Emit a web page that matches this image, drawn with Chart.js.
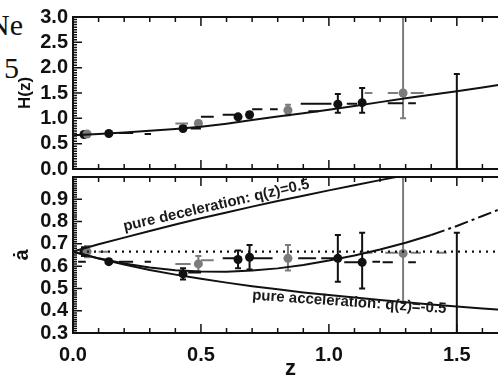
<!DOCTYPE html>
<html lang="en">
<head>
  <meta charset="UTF-8">
  <title>H(z) and a-dot versus z</title>
  <script src="https://cdn.jsdelivr.net/npm/chart.js"></script>
  <style>
    body {
      margin: 0;
      background: #fff;
      overflow: hidden;
      width: 498px;
      height: 383px;
      position: relative;
    }
    #topBox { position: absolute; left: 0; top: 0; }
    #botBox { position: absolute; left: 0; top: 160px; }
    .side {
      position: absolute;
      font-family: 'Liberation Serif', 'DejaVu Serif', serif;
      font-size: 30px;
      color: #111;
      line-height: 1;
    }
  </style>
</head>
<body>
  <!-- bits of the neighbouring page text, cut off at the left edge -->
  <div class="side" style="right:475px; top:10px;">Ne</div>
  <div class="side" style="right:479px; top:53px;">5</div>

  <div id="topBox"><canvas id="hChart" width="514" height="186"></canvas></div>
  <div id="botBox"><canvas id="aChart" width="514" height="223"></canvas></div>

  <script>
    // ---- model curves ----
    const curveZ   = [0, 0.1, 0.2, 0.3, 0.4, 0.5, 0.6, 0.7, 0.8, 0.9, 1.0, 1.1, 1.2, 1.3, 1.4, 1.5, 1.6, 1.7];
    const hCurve   = [0.665, 0.69, 0.72, 0.755, 0.79, 0.835, 0.895, 0.965, 1.035, 1.10, 1.17, 1.245, 1.32, 1.395, 1.465, 1.535, 1.61, 1.69];
    const aMiddle  = [0.665, 0.635, 0.612, 0.594, 0.582, 0.576, 0.575, 0.58, 0.59, 0.605, 0.625, 0.648, 0.675, 0.705, 0.74, 0.78, 0.825, 0.87];
    const aDecel   = [0.665, 0.698, 0.728, 0.758, 0.787, 0.815, 0.841, 0.867, 0.892, 0.916, 0.94, 0.963, 0.986, 1.008];
    const aAccel   = [0.665, 0.634, 0.607, 0.583, 0.562, 0.543, 0.526, 0.51, 0.496, 0.482, 0.47, 0.459, 0.448, 0.438, 0.428, 0.419, 0.41, 0.402];
    const aFlatZ   = [0, 1.7];
    const aFlat    = [0.665, 0.665];

    // ---- data points ----
    const blackZ   = [0.043, 0.14, 0.43, 0.645, 0.69, 1.035, 1.13, 1.50];
    const blackH   = [0.68, 0.70, 0.80, 1.03, 1.07, 1.28, 1.31, null];
    const blackHlo = [0.66, 0.68, 0.76, 0.99, 1.02, 1.11, 1.11, -1.0];
    const blackHhi = [0.70, 0.72, 0.84, 1.07, 1.12, 1.48, 1.60, 1.875];
    const blackA   = [0.665, 0.62, 0.565, 0.63, 0.64, 0.635, 0.617, null];
    const blackAlo = [0.645, 0.61, 0.54, 0.59, 0.585, 0.53, 0.50, 0.1];
    const blackAhi = [0.685, 0.63, 0.59, 0.67, 0.695, 0.74, 0.75, 0.75];

    const grayZ    = [0.055, 0.49, 0.84, 1.29];
    const grayH    = [0.69, 0.90, 1.16, 1.50];
    const grayHlo  = [0.67, 0.85, 1.06, 1.00];
    const grayHhi  = [0.71, 0.95, 1.27, 3.50];
    const grayA    = [0.665, 0.61, 0.635, 0.657];
    const grayAlo  = [0.64, 0.575, 0.58, 0.44];
    const grayAhi  = [0.69, 0.645, 0.695, 1.20];

    // ---- short dash pieces of the binned reconstructions: [z from, z to, value] ----
    const hDashBlack = [[0.18, 0.235, 0.71], [0.28, 0.305, 0.69], [0.46, 0.50, 0.80], [0.50, 0.55, 1.03],
                        [0.585, 0.635, 1.07], [0.70, 0.74, 1.18], [0.77, 0.80, 1.18], [0.92, 0.96, 1.14],
                        [0.89, 1.01, 1.29], [1.07, 1.11, 1.29], [1.23, 1.29, 1.30], [1.31, 1.34, 1.30]];
    const hDashGray  = [[0.40, 0.45, 0.90], [1.14, 1.17, 1.50], [1.23, 1.27, 1.50], [1.32, 1.37, 1.50]];
    const aDashBlack = [[0.02, 0.05, 0.62], [0.18, 0.235, 0.62], [0.28, 0.305, 0.62], [0.45, 0.50, 0.572],
                        [0.585, 0.64, 0.635], [0.70, 0.78, 0.635], [0.88, 0.95, 0.635], [0.97, 1.02, 0.635],
                        [1.06, 1.12, 0.617], [1.17, 1.20, 0.62], [1.21, 1.25, 0.617], [1.31, 1.34, 0.617]];
    const aDashGray  = [[0.10, 0.14, 0.665], [0.40, 0.46, 0.61], [0.50, 0.55, 0.626], [1.12, 1.17, 0.66],
                        [1.22, 1.27, 0.66], [1.32, 1.36, 0.66], [1.42, 1.46, 0.66]];

    // ---- annotations ----
    const noteText  = ['pure deceleration: q(z)=0.5', 'pure acceleration: q(z)=-0.5'];
    const noteZ     = [0.56, 1.08];
    const noteA     = [0.872, 0.438];
    const noteAngle = [-13, 4];

    const INK = '#111';
    const GRAY = '#7c7c7c';
    const FONT = "'Liberation Sans', Arial, sans-serif";

    function pts(xs, ys) {
      return xs.map((x, i) => ({x: x, y: ys[i] === undefined ? null : ys[i]}));
    }
    function pieces(list) {
      const out = [];
      list.forEach(s => {
        out.push({x: s[0], y: s[2]}, {x: s[1], y: s[2]}, {x: s[1], y: null});
      });
      return out;
    }
    function lineSet(data, color, extra) {
      return Object.assign({
        data: data, showLine: true, borderColor: color, borderWidth: 2,
        pointRadius: 0, fill: false, spanGaps: false
      }, extra || {});
    }
    function pointSet(data, color, lo, hi) {
      return {
        data: data, showLine: false, backgroundColor: color, borderColor: color,
        pointRadius: 4.5, pointBorderWidth: 0, errLo: lo, errHi: hi
      };
    }

    // frame + inward IDL-style ticks
    const frameTicks = {
      id: 'frameTicks',
      afterDraw(chart, args, opts) {
        const {ctx, chartArea: a, scales: {x, y}} = chart;
        ctx.save();
        ctx.strokeStyle = INK;
        ctx.lineWidth = 2;
        ctx.strokeRect(a.left, a.top, a.right - a.left, a.bottom - a.top);
        ctx.lineWidth = 1.5;
        ctx.beginPath();
        for (let i = 0; i <= 17; i++) {
          const px = x.getPixelForValue(i / 10);
          const len = i % 5 === 0 ? 9 : 5;
          ctx.moveTo(px, a.top); ctx.lineTo(px, a.top + len);
          ctx.moveTo(px, a.bottom); ctx.lineTo(px, a.bottom - len);
        }
        const n = Math.round((y.max - y.min) / opts.minor);
        for (let i = 0; i <= n; i++) {
          const py = y.getPixelForValue(y.min + i * opts.minor);
          const len = i % opts.every === 0 ? 9 : 4;
          ctx.moveTo(a.left, py); ctx.lineTo(a.left + len, py);
          ctx.moveTo(a.right, py); ctx.lineTo(a.right - len, py);
        }
        ctx.stroke();
        ctx.restore();
      }
    };

    // vertical error bars with caps
    const errorBars = {
      id: 'errorBars',
      beforeDatasetsDraw(chart) {
        const {ctx, chartArea: a, scales: {x, y}} = chart;
        ctx.save();
        ctx.beginPath();
        ctx.rect(a.left, a.top, a.right - a.left, a.bottom - a.top);
        ctx.clip();
        chart.data.datasets.forEach(ds => {
          if (!ds.errLo) return;
          ctx.strokeStyle = ds.borderColor;
          ctx.lineWidth = 2;
          ds.data.forEach((p, i) => {
            const px = x.getPixelForValue(p.x);
            const y1 = y.getPixelForValue(ds.errLo[i]);
            const y2 = y.getPixelForValue(ds.errHi[i]);
            ctx.beginPath();
            ctx.moveTo(px, y1); ctx.lineTo(px, y2);
            ctx.moveTo(px - 3, y1); ctx.lineTo(px + 3, y1);
            ctx.moveTo(px - 3, y2); ctx.lineTo(px + 3, y2);
            ctx.stroke();
          });
        });
        ctx.restore();
      }
    };

    // rotated text labels along the curves
    const notes = {
      id: 'notes',
      afterDatasetsDraw(chart) {
        if (!chart.options.plugins.notes.show) return;
        const {ctx, scales: {x, y}} = chart;
        ctx.save();
        ctx.fillStyle = '#1a1a1a';
        ctx.font = 'bold 15px ' + FONT;
        ctx.textAlign = 'center';
        ctx.textBaseline = 'middle';
        noteText.forEach((t, i) => {
          ctx.save();
          ctx.translate(x.getPixelForValue(noteZ[i]), y.getPixelForValue(noteA[i]));
          ctx.rotate(noteAngle[i] * Math.PI / 180);
          ctx.fillText(t, 0, 0);
          ctx.restore();
        });
        ctx.restore();
      }
    };

    Chart.register(frameTicks, errorBars, notes);

    const tickFont = {family: FONT, size: 20, weight: 'bold'};

    // ---- upper panel: H(z) ----
    new Chart(document.getElementById('hChart'), {
      type: 'scatter',
      data: {
        datasets: [
          lineSet(pts(curveZ, hCurve), INK),
          lineSet(pieces(hDashBlack), INK),
          lineSet(pieces(hDashGray), GRAY),
          pointSet(pts(grayZ, grayH), GRAY, grayHlo, grayHhi),
          pointSet(pts(blackZ, blackH), INK, blackHlo, blackHhi)
        ]
      },
      options: {
        responsive: false,
        animation: false,
        layout: {padding: {top: 12, bottom: 14, left: 0, right: 6}},
        plugins: {
          legend: {display: false},
          tooltip: {enabled: false},
          frameTicks: {minor: 0.05, every: 10},
          notes: {show: false}
        },
        scales: {
          x: {type: 'linear', min: 0, max: 1.7, display: false},
          y: {
            min: 0, max: 3.0,
            afterFit: s => { s.width = 73; },
            grid: {display: false, drawTicks: false},
            border: {display: false},
            ticks: {stepSize: 0.5, padding: 5, autoSkip: false, align: 'inner',
                    color: INK, font: tickFont, callback: v => v.toFixed(1)},
            title: {display: true, text: 'H(z)', color: INK, padding: {top: 15, bottom: 0},
                    font: {family: FONT, size: 17, weight: 'bold'}}
          }
        }
      }
    });

    // ---- lower panel: a-dot ----
    new Chart(document.getElementById('aChart'), {
      type: 'scatter',
      data: {
        datasets: [
          lineSet(pts(aFlatZ, aFlat), INK, {borderDash: [2, 5], borderWidth: 2.2}),
          lineSet(pts(curveZ, aDecel), INK),
          lineSet(pts(curveZ, aAccel), INK),
          lineSet(pts(curveZ, aMiddle), INK, {
            segment: {borderDash: c => c.p0.parsed.x >= 1.4 ? [14, 4, 3, 4] : undefined}
          }),
          lineSet(pieces(aDashBlack), INK),
          lineSet(pieces(aDashGray), GRAY),
          pointSet(pts(grayZ, grayA), GRAY, grayAlo, grayAhi),
          pointSet(pts(blackZ, blackA), INK, blackAlo, blackAhi)
        ]
      },
      options: {
        responsive: false,
        animation: false,
        layout: {padding: {top: 12, bottom: 0, left: 0, right: 6}},
        plugins: {
          legend: {display: false},
          tooltip: {enabled: false},
          frameTicks: {minor: 0.01, every: 10},
          notes: {show: true}
        },
        scales: {
          x: {
            type: 'linear', min: 0, max: 1.7,
            afterFit: s => { s.height = 50; },
            grid: {display: false, drawTicks: false},
            border: {display: false},
            ticks: {
              stepSize: 0.5, includeBounds: false, padding: 10, autoSkip: false,
              color: INK, font: tickFont, maxRotation: 0,
              callback: v => v.toFixed(1)
            },
            title: {display: true, text: 'z', color: INK, padding: {top: 0, bottom: 1},
                    font: {family: FONT, size: 22, weight: 'bold'}}
          },
          y: {
            min: 0.3, max: 1.0,
            afterFit: s => { s.width = 73; },
            grid: {display: false, drawTicks: false},
            border: {display: false},
            ticks: {
              stepSize: 0.1, padding: 5, autoSkip: false, align: 'inner', color: INK, font: tickFont,
              callback: v => v > 0.95 ? '' : v.toFixed(1)
            },
            title: {display: true, text: 'ȧ', color: INK, padding: {top: 10, bottom: 0},
                    font: {family: FONT, size: 20, weight: 'bold'}}
          }
        }
      }
    });
  </script>
</body>
</html>
